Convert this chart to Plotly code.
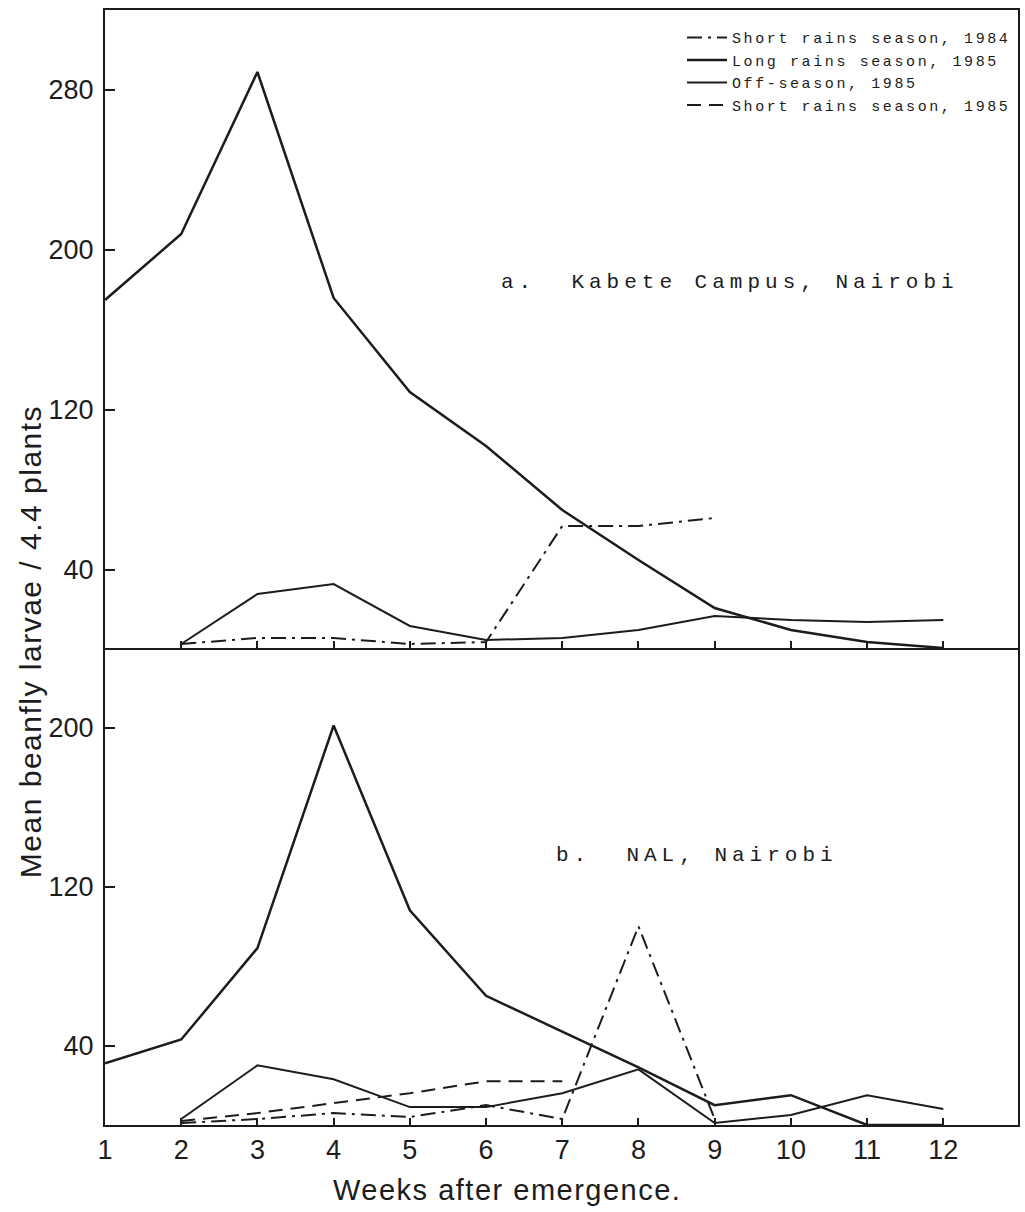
import plotly.graph_objects as go

# Weeks after crop emergence
weeks = [1, 2, 3, 4, 5, 6, 7, 8, 9, 10, 11, 12]
week_labels = ["1", "2", "3", "4", "5", "6", "7", "8", "9", "10", "11", "12"]

# a. Kabete Campus, Nairobi - mean larvae per 44 plants
kabete_short_1984 = [None, 3, 6, 6, 3, 4, 62, 62, 66, None, None, None]
kabete_long_1985 = [175, 208, 289, 176, 129, 102, 70, 45, 21, 10, 4, 1]
kabete_off_1985 = [None, 3, 28, 33, 12, 5, 6, 10, 17, 15, 14, 15]

# b. NAL, Nairobi - mean larvae per 44 plants
nal_short_1984 = [None, 1, 3, 6, 4, 10, 3, 100, 3, None, None, None]
nal_long_1985 = [31, 43, 89, 201, 108, 65, 47, 29, 10, 15, 0, 0]
nal_off_1985 = [None, 3, 30, 23, 9, 9, 16, 28, 1, 5, 15, 8]
nal_short_1985 = [None, 2, 6, 11, 16, 22, 22, None, None, None, None, None]

upper_ticks = [40, 120, 200, 280]
lower_ticks = [40, 120, 200]

INK = "#1c1c1c"
DASHDOT = "15px,6px,3px,6px"
DASHED = "14px,8px"
MONO = "Liberation Mono, DejaVu Sans Mono, monospace"
SANS = "Liberation Sans, Arial, sans-serif"


def spaced(text, px):
    return '<span style="letter-spacing:%spx">%s</span>' % (px, text)


LEG_SR84 = spaced("Short rains season, 1984", 2.6)
LEG_LR85 = spaced("Long rains season, 1985", 2.6)
LEG_OS85 = spaced("Off-season, 1985", 2.6)
LEG_SR85 = spaced("Short rains season, 1985", 2.6)

fig = go.Figure()

# lower panel (NAL) - carries the legend entries
fig.add_trace(go.Scatter(x=weeks, y=nal_short_1984, mode="lines", name=LEG_SR84,
                         line=dict(color=INK, width=2, dash=DASHDOT),
                         xaxis="x", yaxis="y"))
fig.add_trace(go.Scatter(x=weeks, y=nal_long_1985, mode="lines", name=LEG_LR85,
                         line=dict(color=INK, width=2.5),
                         xaxis="x", yaxis="y"))
fig.add_trace(go.Scatter(x=weeks, y=nal_off_1985, mode="lines", name=LEG_OS85,
                         line=dict(color=INK, width=2),
                         xaxis="x", yaxis="y"))
fig.add_trace(go.Scatter(x=weeks, y=nal_short_1985, mode="lines", name=LEG_SR85,
                         line=dict(color=INK, width=2, dash=DASHED),
                         xaxis="x", yaxis="y"))

# upper panel (Kabete)
fig.add_trace(go.Scatter(x=weeks, y=kabete_short_1984, mode="lines", showlegend=False,
                         line=dict(color=INK, width=2, dash=DASHDOT),
                         xaxis="x2", yaxis="y2"))
fig.add_trace(go.Scatter(x=weeks, y=kabete_long_1985, mode="lines", showlegend=False,
                         line=dict(color=INK, width=2.5),
                         xaxis="x2", yaxis="y2"))
fig.add_trace(go.Scatter(x=weeks, y=kabete_off_1985, mode="lines", showlegend=False,
                         line=dict(color=INK, width=2),
                         xaxis="x2", yaxis="y2"))

split = 477 / 1115
tickfont = dict(family=SANS, size=27, color=INK)

common_x = dict(range=[1, 12.98], tickvals=weeks, ticktext=week_labels,
                ticks="inside", ticklen=7, tickwidth=1.5, tickcolor=INK,
                showline=True, linewidth=2, linecolor=INK,
                showgrid=False, zeroline=False, tickfont=tickfont)
common_y = dict(ticks="inside", ticklen=10, tickwidth=1.5, tickcolor=INK,
                showline=True, linewidth=2, linecolor=INK, mirror=True,
                showgrid=False, zeroline=False, tickfont=tickfont,
                ticklabelstandoff=4)

fig.update_layout(
    width=1025, height=1212,
    margin=dict(l=105, r=5, t=10, b=87),
    paper_bgcolor="white", plot_bgcolor="white",
    xaxis=dict(common_x, domain=[0, 1], anchor="y", ticklabelstandoff=0),
    yaxis=dict(common_y, domain=[0, split], range=[0, 240], tickvals=lower_ticks),
    xaxis2=dict(common_x, domain=[0, 1], anchor="y2", mirror=True,
                showticklabels=False, matches="x"),
    yaxis2=dict(common_y, domain=[split, 1], range=[1, 320], tickvals=upper_ticks),
    legend=dict(x=0.632, y=0.99, xanchor="left", yanchor="top",
                bgcolor="rgba(0,0,0,0)", borderwidth=0,
                font=dict(family=MONO, size=15, color=INK),
                tracegroupgap=0, itemwidth=40),
    showlegend=True,
)

annotations = [
    dict(text=spaced("a.  Kabete Campus, Nairobi", 5),
         x=(500 - 105) / 915, y=(1125 - 283) / 1115, xref="paper", yref="paper",
         xanchor="left", yanchor="middle", showarrow=False,
         font=dict(family=MONO, size=21, color=INK)),
    dict(text=spaced("b.  NAL, Nairobi", 5),
         x=(555 - 105) / 915, y=(1125 - 855) / 1115, xref="paper", yref="paper",
         xanchor="left", yanchor="middle", showarrow=False,
         font=dict(family=MONO, size=21, color=INK)),
    dict(text=spaced("Weeks after emergence.", 1.5),
         x=(508 - 105) / 915, y=(1125 - 1190) / 1115, xref="paper", yref="paper",
         xanchor="center", yanchor="middle", showarrow=False,
         font=dict(family=SANS, size=29, color=INK)),
    dict(text=spaced("Mean beanfly larvae / 4.4 plants", 1.5),
         x=(30 - 105) / 915, y=(1125 - 642) / 1115, xref="paper", yref="paper",
         xanchor="center", yanchor="middle", textangle=-90, showarrow=False,
         font=dict(family=SANS, size=30, color=INK)),
]
fig.update_layout(annotations=annotations)

fig.write_html("out.html")
